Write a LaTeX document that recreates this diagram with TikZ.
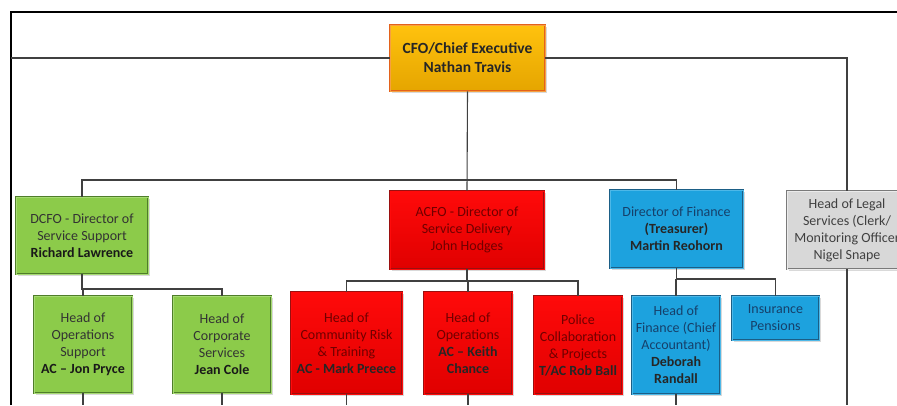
\documentclass[tikz,border=0pt]{standalone}
\usepackage{fontspec}
\setmainfont{Carlito}
\usetikzlibrary{shadows}
\definecolor{goldT}{HTML}{FFC20E}
\definecolor{goldB}{HTML}{E5A500}
\definecolor{goldD}{HTML}{E3621C}
\definecolor{goldI}{HTML}{F7A040}
\definecolor{grnF}{HTML}{8CCB4A}
\definecolor{grnD}{HTML}{4F7D2A}
\definecolor{grnI}{HTML}{A6DA72}
\definecolor{redT}{HTML}{FF0A0A}
\definecolor{redB}{HTML}{E00000}
\definecolor{redD}{HTML}{9A1010}
\definecolor{redTx}{HTML}{700000}
\definecolor{bluF}{HTML}{1DA2DE}
\definecolor{bluD}{HTML}{1B5E86}
\definecolor{bluI}{HTML}{4DB8E8}
\definecolor{bluTx}{HTML}{16406A}
\definecolor{gryF}{HTML}{D8D8D8}
\definecolor{gryD}{HTML}{7A7A7A}
\definecolor{gryI}{HTML}{EBEBEB}
\definecolor{conn}{HTML}{404040}
\begin{document}
\begin{tikzpicture}[x=1pt,y=-1pt,
  box/.style={align=center, inner sep=1pt, line width=0.8pt, double distance=1pt,
    font=\fontsize{14}{17}\selectfont,
    drop shadow={shadow xshift=1.5pt,shadow yshift=-1.5pt,opacity=0.3}},
  goldbox/.style={box, top color=goldT, bottom color=goldB, draw=goldD, double=goldI, text=black!85, font=\fontsize{15.5}{19}\selectfont\bfseries},
  greenbox/.style={box, fill=grnF, draw=grnD, double=grnI, text=black!80},
  redbox/.style={box, top color=redT, bottom color=redB, draw=redD, double=redT, text=redTx},
  bluebox/.style={box, fill=bluF, draw=bluD, double=bluI, text=bluTx},
  greybox/.style={box, fill=gryF, draw=gryD, double=gryI, text=black!75},
  link/.style={draw=conn, line width=1.1pt},
  frame/.style={draw=black, line width=1.4pt}
]
\useasboundingbox (0,0) rectangle (897,405);
\clip (0,0) rectangle (897,405);

% nodes
\node[goldbox, minimum width=155pt, minimum height=66pt] (cfo) at (467.5,58) {CFO/Chief Executive\\Nathan Travis};

\node[greenbox, minimum width=132pt, minimum height=77pt] (dcfo) at (82,235.5) {DCFO - Director of\\Service Support\\\textbf{\color{black!90}Richard Lawrence}};
\node[greenbox, minimum width=98pt, minimum height=97pt] (hos) at (83,344.5) {Head of\\Operations\\Support\\\textbf{\color{black!90}AC -- Jon Pryce}};
\node[greenbox, minimum width=98pt, minimum height=97pt] (hcs) at (222,344.5) {Head of\\Corporate\\Services\\\textbf{\color{black!90}Jean Cole}};

\node[redbox, minimum width=154pt, minimum height=78pt] (acfo) at (467,230) {ACFO - Director of\\Service Delivery\\John Hodges};
\node[redbox, minimum width=111pt, minimum height=102pt] (hcr) at (346.5,343) {Head of\\Community Risk\\\& Training\\\textbf{\color{black!85}AC - Mark Preece}};
\node[redbox, minimum width=88pt, minimum height=102pt] (hop) at (468,343) {Head of\\Operations\\\textbf{\color{black!85}AC -- Keith}\\\textbf{\color{black!85}Chance}};
\node[redbox, minimum width=88pt, minimum height=98pt] (pol) at (578,345) {Police\\Collaboration\\\& Projects\\\textbf{\color{black!85}T/AC Rob Ball}};

\node[bluebox, minimum width=133pt, minimum height=78pt] (dof) at (676.5,229) {Director of Finance\\\textbf{\color{black!85}(Treasurer)}\\\textbf{\color{black!85}Martin Reohorn}};
\node[bluebox, minimum width=88pt, minimum height=98pt] (hof) at (676,345) {Head of\\Finance (Chief\\Accountant)\\\textbf{\color{black!85}Deborah}\\\textbf{\color{black!85}Randall}};
\node[bluebox, minimum width=87pt, minimum height=44pt] (ins) at (775.5,318) {Insurance\\Pensions};

\node[greybox, minimum width=120pt, minimum height=78pt] (legal) at (847,230) {Head of Legal\\Services (Clerk/\\Monitoring Officer\\Nigel Snape};

% coordinates
\coordinate (fl) at (11,58);
\coordinate (bus1) at (467,180);
\coordinate (bus2) at (82,289);
\coordinate (bus3) at (467,281);
\coordinate (bus4) at (677,279);
\coordinate (bot) at (467,405);

% frame
\draw[frame] (11,405) -- (11,12) -- (897,12);

% connectors
\draw[link] (fl) -- (cfo.west);
\draw[link] (cfo.east) -| (legal.north);
\draw[link] (cfo.south) -- (acfo.north);
\draw[link] (dcfo.north) -- (dcfo.north |- bus1) -- (dof.north |- bus1) -- (dof.north);

\draw[link] (dcfo.south) -- (dcfo.south |- bus2) -- (hcs.north |- bus2) -- (hcs.north);
\draw[link] (hos.north) -- (hos.north |- bus2);

\draw[link] (acfo.south) -- (acfo.south |- bus3);
\draw[link] (hcr.north) -- (hcr.north |- bus3) -- (pol.north |- bus3) -- (pol.north);
\draw[link] (hop.north) -- (hop.north |- bus3);

\draw[link] (dof.south) -- (dof.south |- bus4) -- (ins.north |- bus4) -- (ins.north);
\draw[link] (hof.north) -- (hof.north |- bus4);

\draw[link] (hos.south) -- (hos.south |- bot);
\draw[link] (hcs.south) -- (hcs.south |- bot);
\draw[link] (hcr.south) -- (hcr.south |- bot);
\draw[link] (hop.south) -- (hop.south |- bot);
\draw[link] (hof.south) -- (hof.south |- bot);
\draw[link] (legal.south) -- (legal.south |- bot);
\end{tikzpicture}
\end{document}
